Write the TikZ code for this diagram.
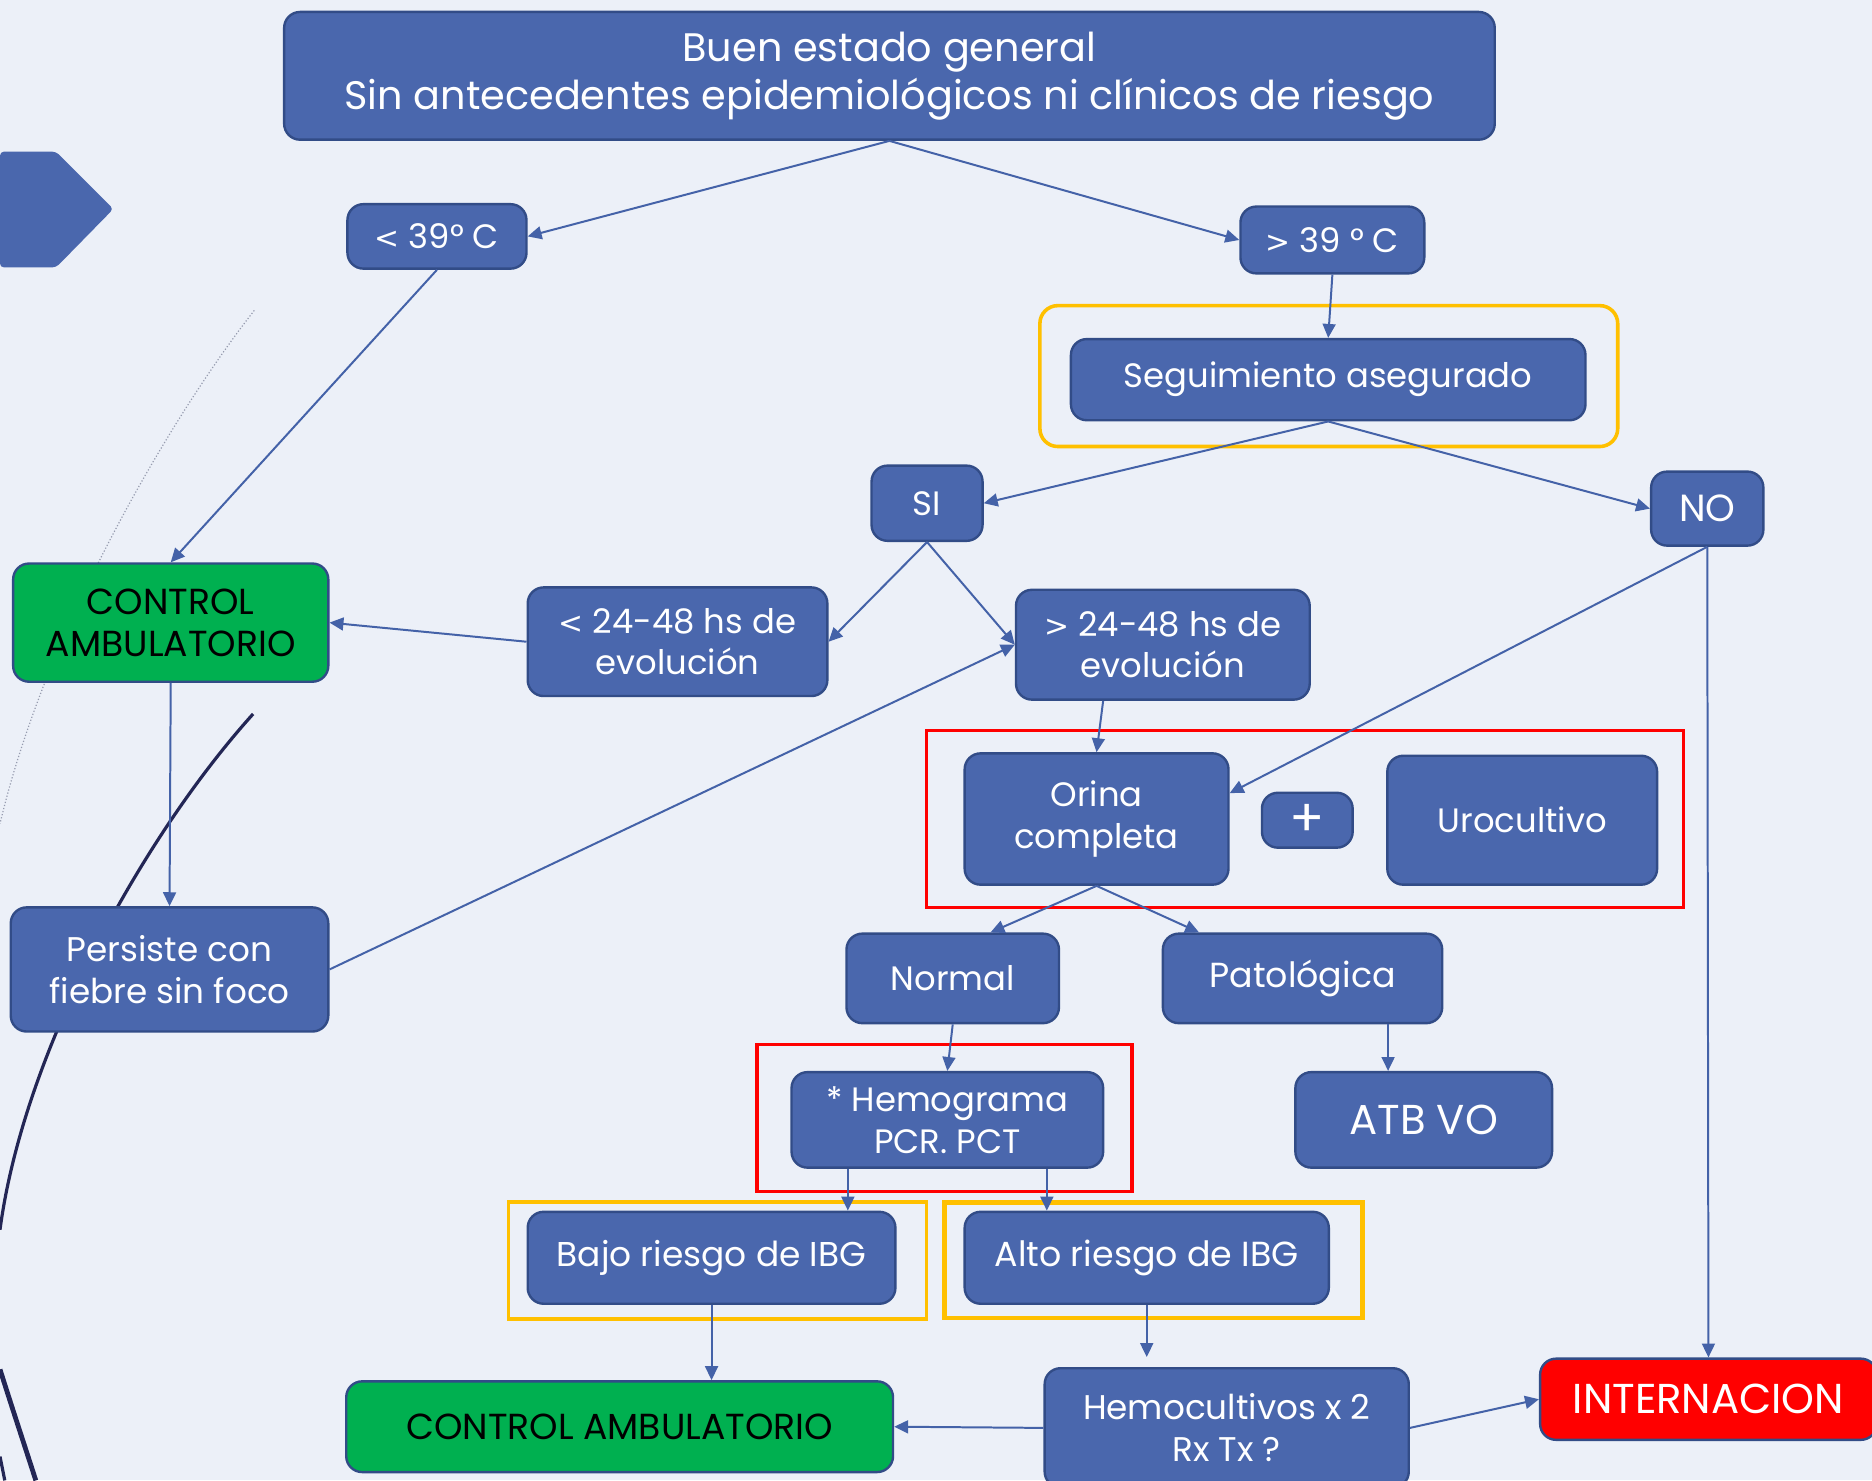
\documentclass[tikz,border=0pt]{standalone}
\usepackage{fontspec}
\setmainfont{Poppins}
\newfontfamily\simbolo{DejaVu Sans}
\usetikzlibrary{arrows.meta}
\definecolor{fondo}{RGB}{236,240,248}
\definecolor{azul}{RGB}{74,103,173}
\definecolor{borde}{RGB}{50,76,135}
\definecolor{azulflecha}{RGB}{68,98,168}
\definecolor{verdeok}{RGB}{0,176,80}
\definecolor{rojoint}{RGB}{255,0,0}
\definecolor{naranja}{RGB}{255,192,0}
\definecolor{marino}{RGB}{35,38,85}
\definecolor{grisarco}{RGB}{150,155,175}
\newcommand\menor{{\simbolo\fontsize{15}{21}\selectfont<}}
\newcommand\mayor{{\simbolo\fontsize{15}{21}\selectfont>}}
\begin{document}
\begin{tikzpicture}[x=0.6pt,y=-0.6pt,
    caja/.style={draw=borde,line width=1.2pt,fill=azul,text=white,rounded corners=8pt,
      align=center,inner sep=0pt,font=\fontsize{17}{21}\selectfont},
    verde/.style={caja,fill=verdeok,text=black,font=\fontsize{18.2}{21}\selectfont},
    rojo/.style={caja,fill=rojoint,font=\fontsize{21}{24}\selectfont},
    wh/.style 2 args={minimum width=#1*0.6pt,minimum height=#2*0.6pt},
    flecha/.style={-{Triangle[length=7pt,width=6.5pt]},line width=1pt,draw=azulflecha},
    marcorojo/.style={draw=rojoint,line width=1.8pt},
    marconaranja/.style={draw=naranja,line width=1.8pt}]
\fill[fondo] (0,0) rectangle (1568,1240);
\clip (0,0) rectangle (1568,1240);

\draw[grisarco,line width=0.6pt,densely dotted] (213,260) .. controls (150,340) and (40,520) .. (0,690);
\draw[marino,line width=1.6pt] (212,598) .. controls (120,700) and (20,880) .. (0,1030);
\draw[marino,line width=2.4pt] (0,1147) .. controls (12,1185) and (22,1215) .. (30,1240);
\draw[marino,line width=1.6pt] (0,1220) -- (4,1240);
\fill[azul,rounded corners=2pt] (0,127) -- (47,127) -- (95,175) -- (47,224) -- (0,224) -- cycle;

\draw[marconaranja,rounded corners=9pt] (871,256) rectangle (1355,374);
\draw[marcorojo] (776,612) rectangle (1410,760);
\draw[marcorojo] (634,875) rectangle (948,998);
\draw[marconaranja] (426,1007) rectangle (776,1105);
\draw[marconaranja,line width=2.4pt] (791,1007) rectangle (1141,1104);

\node[caja,wh={1014}{107},font=\fontsize{20}{24}\selectfont] (inicio) at (745,63.5)
  {Buen estado general\\Sin antecedentes epidemiológicos ni clínicos de riesgo};
\node[caja,wh={150}{54}] (menos39) at (366,198) {\menor{} 39° C};
\node[caja,wh={154}{56}] (mas39) at (1116,201) {\mayor{} 39 ° C};
\node[caja,wh={431}{68}] (seguim) at (1112.5,318) {Seguimiento asegurado};
\node[caja,wh={93}{63}] (si) at (776.5,421.5) {SI};
\node[caja,wh={94}{62},font=\fontsize{19}{21}\selectfont] (no) at (1430,426) {NO};
\node[verde,wh={264}{99}] (control) at (143,521.5) {CONTROL\\AMBULATORIO};
\node[caja,wh={251}{91}] (menos24) at (567.5,537.5) {\menor{} 24-48 hs de\\evolución};
\node[caja,wh={246}{92}] (mas24) at (974,540) {\mayor{} 24-48 hs de\\evolución};
\node[caja,wh={221}{110}] (orina) at (918.5,686) {Orina\\completa};
\node[caja,wh={76}{46},font=\fontsize{26}{26}\selectfont] (mas) at (1095,687) {+};
\node[caja,wh={226}{108}] (urocult) at (1275,687) {Urocultivo};
\node[caja,wh={266}{104},font=\fontsize{17.2}{21}\selectfont] (persiste) at (142,812) {Persiste con\\fiebre sin foco};
\node[caja,wh={178}{75}] (normal) at (798,819.5) {Normal};
\node[caja,wh={234}{75},font=\fontsize{17.5}{21}\selectfont] (patol) at (1091,819.5) {Patológica};
\node[caja,wh={261}{80}] (hemograma) at (793.5,938) {* Hemograma\\PCR. PCT};
\node[caja,wh={215}{80},font=\fontsize{21}{24}\selectfont] (atb) at (1192.5,938) {ATB VO};
\node[caja,wh={308}{77},font=\fontsize{17.3}{21}\selectfont] (bajo) at (596,1053.5) {Bajo riesgo de IBG};
\node[caja,wh={305}{77},font=\fontsize{17.5}{21}\selectfont] (alto) at (960.5,1053.5) {Alto riesgo de IBG};
\node[verde,wh={458}{76}] (control2) at (519,1195) {CONTROL AMBULATORIO};
\node[caja,wh={305}{100},font=\fontsize{17.2}{21}\selectfont] (hemocult) at (1027.5,1196) {Hemocultivos x 2\\Rx Tx ?};
\node[rojo,wh={282}{68}] (internacion) at (1431,1172) {INTERNACION};

\draw[flecha] (inicio.south) -- (menos39.east);
\draw[flecha] (inicio.south) -- (mas39.west);
\draw[flecha] (menos39.south) -- (control.north);
\draw[flecha] (mas39.south) -- (seguim.north);
\draw[flecha] (seguim.south) -- (si.east);
\draw[flecha] (seguim.south) -- (no.west);
\draw[flecha] (si.south) -- (menos24.east);
\draw[flecha] (si.south) -- (mas24.west);
\draw[flecha] (menos24.west) -- (control.east);
\draw[flecha] (control.south) -- (persiste.north);
\draw[flecha] (persiste.east) -- (mas24.west);
\draw[flecha] ([xshift=-30pt]mas24.south) -- (orina.north);
\draw[flecha] (no.south) -- ([yshift=13pt]orina.east);
\draw[flecha] (no.south) -- (internacion.north);
\draw[flecha] (orina.south) -- ([xshift=19pt]normal.north);
\draw[flecha] (orina.south) -- ([xshift=-52pt]patol.north);
\draw[flecha] (normal.south) -- (hemograma.north);
\draw[flecha] ([xshift=43pt]patol.south) -- ([xshift=43pt]patol.south |- atb.north);
\draw[flecha] ([xshift=-50pt]hemograma.south) -- ([xshift=-50pt]hemograma.south |- bajo.north);
\draw[flecha] ([xshift=50pt]hemograma.south) -- ([xshift=50pt]hemograma.south |- alto.north);
\draw[flecha] (bajo.south) -- (bajo.south |- control2.north);
\draw[flecha] (alto.south) -- ([yshift=5pt]alto.south |- hemocult.north);
\draw[flecha] (hemocult.west) -- (control2.east);
\draw[flecha] (hemocult.east) -- (internacion.west);
\end{tikzpicture}
\end{document}
